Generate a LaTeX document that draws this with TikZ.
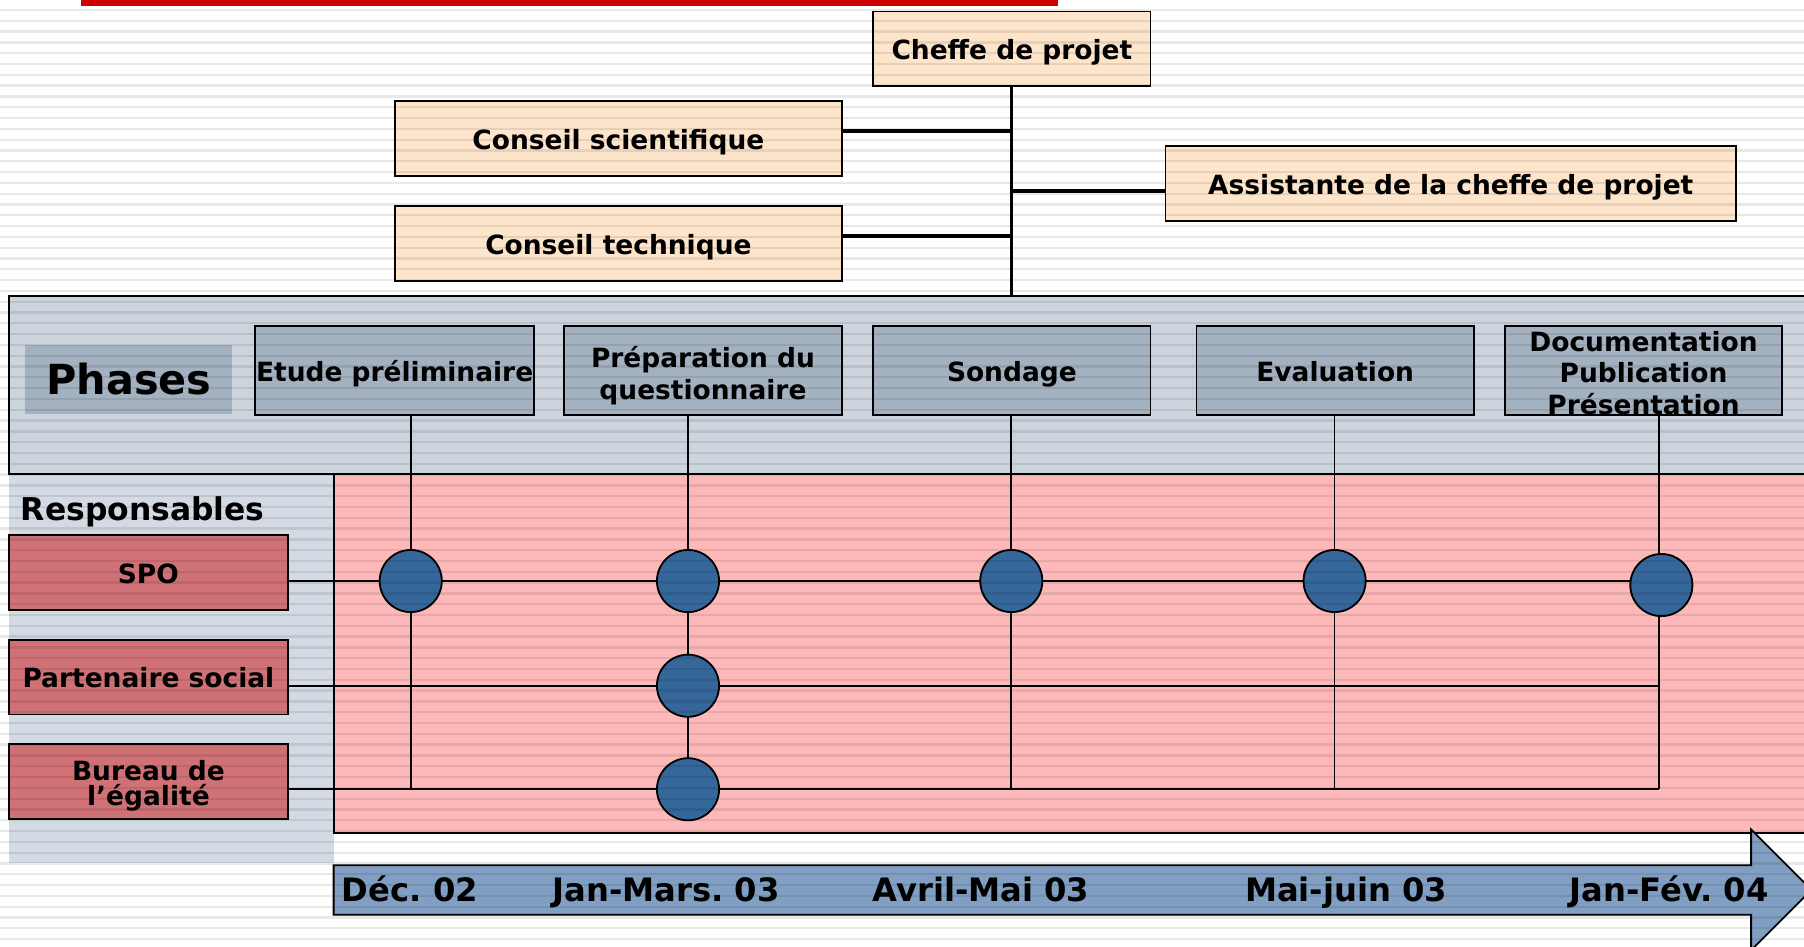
\documentclass[tikz,border=0pt]{standalone}
\usepackage{fontspec}
\setmainfont{DejaVu Sans}
\frenchspacing
\definecolor{peach}{HTML}{FDE5CC}
\definecolor{phasefill}{HTML}{A3B1C1}
\definecolor{panelfill}{HTML}{CCD4DE}
\definecolor{lowfill}{HTML}{D3DAE3}
\definecolor{pinkfill}{HTML}{FDB9BA}
\definecolor{respred}{HTML}{D07176}
\definecolor{dotblue}{HTML}{35679A}
\definecolor{arrowblue}{HTML}{819FC3}
\definecolor{topred}{HTML}{CC0000}
\newcommand\myfs[2]{\fontsize{#1}{#2}\selectfont\bfseries\frenchspacing}
\begin{document}
\begin{tikzpicture}[x=1pt,y=-1pt,
  box/.style={draw=black,line width=1.6pt,inner sep=0pt,align=center,font=\myfs{23}{27.5}},
  oneline/.style={text height=22.5pt,text depth=3.8pt},
  peachbox/.style={box,oneline,fill=peach,minimum height=65pt},
  phasebox/.style={box,fill=phasefill,minimum height=78pt},
  respbox/.style={box,fill=respred,minimum width=242pt,minimum height=65pt},
  dot/.style={circle,draw=black,line width=1.6pt,fill=dotblue,minimum size=54pt,inner sep=0pt},
  link/.style={line width=3pt},
  gridline/.style={line width=1.5pt},
  tlabel/.style={anchor=base west,inner sep=0pt,font=\myfs{28}{30}}
]
\useasboundingbox (0,0) rectangle (1568,823);
\clip (0,0) rectangle (1568,823);
\fill[white] (0,0) rectangle (1568,823);
\fill[topred] (70,0) rectangle (920,5);

% panels
\fill[lowfill] (8,412) rectangle (290,750);
\draw[fill=panelfill,line width=1.6pt] (8,257) rectangle (1590,412);
\draw[fill=pinkfill,line width=1.6pt] (290,412) rectangle (1590,724);

% top organisation
\node[peachbox,minimum width=241pt] (chef) at (879.5,42.5) {Cheffe de projet};
\node[peachbox,minimum width=389pt] (csci) at (537.5,120.5) {Conseil scientifique};
\node[peachbox,minimum width=389pt] (ctech) at (537.5,211.5) {Conseil technique};
\node[peachbox,minimum width=496pt] (assist) at (1261,159.5) {Assistante de la cheffe de projet};
\coordinate (trunkend) at (879,257);
\coordinate (j1) at (879,114);
\coordinate (j2) at (879,205);
\coordinate (j3) at (879,166);
\draw[link] (chef.south -| trunkend) -- (trunkend);
\draw[link] (csci.east |- j1) -- (j1);
\draw[link] (ctech.east |- j2) -- (j2);
\draw[link] (j3) -- (assist.west |- j3);

% phases
\node[fill=phasefill,minimum width=180pt,minimum height=60pt,inner sep=0pt,font=\myfs{36}{40},text height=28pt,text depth=2pt] (phases) at (112,330) {Phases};
\node[phasebox,oneline,minimum width=242pt] (etude) at (343,322) {Etude préliminaire};
\node[phasebox,minimum width=242pt] (prep) at (611,322) {\rule{0pt}{27.4pt}Préparation du\\questionnaire};
\node[phasebox,oneline,minimum width=241pt] (sond) at (879.5,322) {Sondage};
\node[phasebox,oneline,minimum width=241pt] (eval) at (1160.5,322) {Evaluation};
\node[phasebox,minimum width=241pt] (doc) at (1428.5,322) {\rule{0pt}{21.5pt}Documentation\\Publication\\Présentation};

% responsables
\node[anchor=base west,inner sep=0pt,font=\myfs{27.3}{30}] (respl) at (18,452) {Responsables};
\node[respbox,oneline] (spo) at (129,497.5) {SPO};
\node[respbox,oneline] (part) at (129,588.5) {Partenaire social};
\node[respbox,font=\myfs{23}{22}] (bur) at (129,679.5) {\rule{0pt}{24.5pt}Bureau de\\l’égalité};

% grid coordinates
\coordinate (k1) at (357,505);
\coordinate (k2) at (598,505);
\coordinate (k3) at (879,505);
\coordinate (k4) at (1160,505);
\coordinate (k5) at (1444,508.5);
\coordinate (kv5) at (1442,505);
\coordinate (r2) at (598,596);
\coordinate (r3) at (598,686);

% rows
\draw[gridline] (spo.east |- k1) -- (kv5);
\draw[gridline] (part.east |- r2) -- (r2 -| kv5);
\draw[gridline] (bur.east |- r3) -- (r3 -| kv5);
% columns
\draw[gridline] (etude.south -| k1) -- (k1 |- r3);
\draw[gridline] (prep.south -| k2) -- (r3);
\draw[gridline] (sond.south -| k3) -- (k3 |- r3);
\draw[gridline] (eval.south -| k4) -- (k4 |- r3);
\draw[gridline] (doc.south -| kv5) -- (kv5 |- r3);

% milestones
\node[dot] (c1) at (k1) {};
\node[dot] (c2) at (k2) {};
\node[dot] (c3) at (k3) {};
\node[dot] (c4) at (k4) {};
\node[dot] (c5) at (k5) {};
\node[dot] (c6) at (r2) {};
\node[dot] (c7) at (r3) {};

% timeline arrow
\draw[fill=arrowblue,line width=1.6pt,line join=miter]
  (290,752) -- (1522,752) -- (1522,721) -- (1574.5,773.5) -- (1522,826) -- (1522,795) -- (290,795) -- cycle;
\node[tlabel] (t1) at (297,783.5) {Déc. 02};
\node[tlabel] (t2) at (480,783.5) {Jan-Mars. 03};
\node[tlabel] (t3) at (758,783.5) {Avril-Mai 03};
\node[tlabel] (t4) at (1082,783.5) {Mai-juin 03};
\node[tlabel] (t5) at (1364,783.5) {Jan-Fév. 04};

% stripes
\foreach \i in {0,...,88}{
  \draw[black,opacity=0.09,line width=2pt] (0,8.7+\i*9.39) -- (1568,8.7+\i*9.39);
}
\end{tikzpicture}
\end{document}
